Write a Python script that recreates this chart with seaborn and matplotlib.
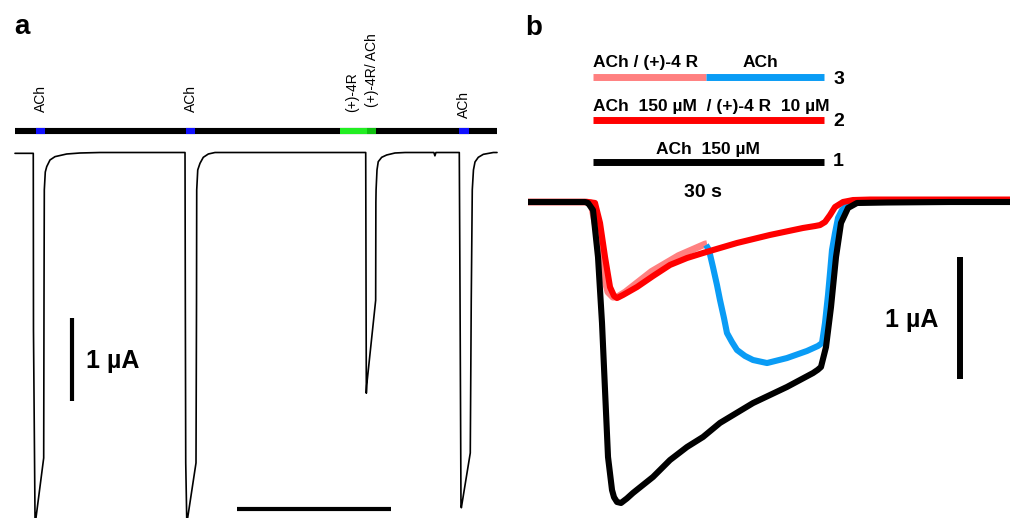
import matplotlib
matplotlib.use("Agg")
import matplotlib.pyplot as plt
import matplotlib.transforms as mtransforms
import pandas as pd
import seaborn as sns

# ---------------- Panel a data (time in s, current in µA) ----------------
a_time = [0, 35.6, 36.0, 39.0, 40.0, 40.9, 55.9, 56.5, 57.1, 59.0, 61.8, 68.2, 77.9,
          100.7, 126.6, 165.6, 331.2, 331.8, 332.6, 334.5, 335.5, 336.4, 352.6, 353.6,
          354.0, 356.0, 360.4, 366.8, 376.6, 389.6, 555.2, 683.2, 683.8, 684.4, 685.2,
          702.6, 703.0, 703.4, 705.2, 707.6, 714.3, 724.0, 740.2, 760.0, 816.0, 818.0,
          820.0, 865.5, 866.9, 868.8, 869.5, 886.9, 888.8, 890.8, 893.1, 896.1, 902.5,
          912.3, 931.8, 939.0]
a_current = [-0.01, -0.01, -2.14, -4.40, -4.72, -4.40, -3.68, -1.78, -0.45, -0.235, -0.17,
             -0.09, -0.05, -0.018, -0.006, 0, 0, -1.8, -3.74, -4.40, -4.75, -4.40, -3.74,
             -1.8, -0.45, -0.21, -0.13, -0.058, -0.018, 0, 0, 0, -1.5, -2.90, -2.80, -1.78,
             -0.6, -0.45, -0.21, -0.111, -0.058, -0.030, -0.006, 0, 0, -0.04, 0, 0, -1.69,
             -4.25, -4.28, -3.62, -1.78, -0.45, -0.21, -0.114, -0.058, -0.022, 0, 0]

a_bar_start, a_bar_end = 0.0, 938.3
a_seg_start = [40.3, 332.5, 633.1, 685.1, 865.5]
a_seg_end = [58.4, 351.2, 685.1, 702.6, 884.4]
a_labels = ["ACh", "ACh", "(+)-4R", "(+)-4R/ ACh", "ACh"]
a_label_time = [50.1, 342.3, 656.0, 695.0, 875.3]
a_scale_time = 300.0      # horizontal scale bar (s)
a_scale_current = 1.0     # vertical scale bar (µA)

# ---------------- Panel b data (time in s, current in µA) ----------------
b1_time = [-8.44, -1.04, -0.65, 0.0, 0.65, 1.17, 1.56, 1.95, 2.47, 2.73, 3.12, 3.64, 4.4,
           5.19, 7.79, 10.0, 12.21, 14.29, 16.49, 20.78, 25.19, 28.57, 29.2, 29.61, 30.26,
           30.91, 31.56, 32.21, 33.12, 34.29, 38.18, 46.36, 54.5]
b1_current = [0, 0, -0.008, -0.066, -0.451, -0.992, -1.541, -2.090, -2.361, -2.42, -2.459,
              -2.467, -2.43, -2.385, -2.254, -2.115, -2.008, -1.926, -1.811, -1.648,
              -1.516, -1.402, -1.375, -1.352, -1.189, -0.861, -0.451, -0.172, -0.049,
              -0.008, -0.004, 0, 0]

b2_time = [-8.44, -0.65, 0.26, 0.91, 1.56, 2.21, 2.73, 3.12, 3.90, 5.71, 7.79, 10.0, 12.21,
           14.29, 16.49, 18.70, 22.99, 27.27, 28.83, 29.48, 30.13, 30.78, 31.43, 32.47,
           33.77, 35.97, 54.5]
b2_current = [0, 0, -0.008, -0.172, -0.451, -0.697, -0.770, -0.787, -0.762, -0.697, -0.607,
              -0.516, -0.459, -0.418, -0.377, -0.336, -0.270, -0.213, -0.197, -0.189,
              -0.164, -0.107, -0.041, 0.0, 0.016, 0.020, 0.020]

b3a_time = [-8.44, -0.91, -0.26, 0.45, 1.30, 1.95, 2.60, 3.25, 4.20, 7.60, 11.10, 14.55, 14.81]
b3a_current = [0, 0, -0.008, -0.230, -0.582, -0.738, -0.780, -0.775, -0.738, -0.570,
               -0.440, -0.345, -0.342]

b3b_time = [14.68, 15.06, 15.58, 16.10, 16.49, 17.01, 17.40, 18.05, 18.70, 19.74, 20.78,
            22.60, 25.19, 27.79, 29.22, 29.74, 30.13, 30.52, 30.78, 31.04, 31.43, 31.82,
            32.34, 33.38, 34.68, 54.5]
b3b_current = [-0.352, -0.393, -0.533, -0.680, -0.803, -0.951, -1.074, -1.148, -1.213,
               -1.262, -1.295, -1.320, -1.279, -1.221, -1.180, -1.156, -0.992, -0.762,
               -0.582, -0.393, -0.254, -0.131, -0.066, -0.008, 0.004, 0.004]

b_app_start, b_app_switch, b_app_end = 0.0, 14.68, 30.0
b_row_numbers = ["3", "2", "1"]
b_scale_current = 1.0

# ---------------- Styling ----------------
sns.set_theme(style="white")
plt.rcParams["font.family"] = ["Liberation Sans", "DejaVu Sans"]
plt.rcParams["text.color"] = "black"

W, H = 1010, 518
fig = plt.figure(figsize=(W / 100, H / 100), dpi=100)
fig.patch.set_facecolor("white")

# ---- panel a axes: pixel 0..510 ----
ax_a = fig.add_axes([0, 0, 510 / W, 1])
s_per_px_a = 300 / 154.0
ax_a.set_xlim(-15 * s_per_px_a, 495 * s_per_px_a)
ax_a.set_ylim(-(518 - 152.5) / 83.0, 152.5 / 83.0)
ax_a.axis("off")

df_a = pd.DataFrame({"t": a_time, "i": a_current})
sns.lineplot(data=df_a, x="t", y="i", ax=ax_a, color="black", linewidth=1.2,
             sort=False, estimator=None)

blend_a = mtransforms.blended_transform_factory(ax_a.transData, ax_a.transAxes)
bar_y_a = 1 - 131 / H
ax_a.plot([a_bar_start, a_bar_end], [bar_y_a, bar_y_a], color="black", lw=4.4,
          solid_capstyle="butt", transform=blend_a)
seg_colors = ["#1010ff", "#1010ff", "#22ee22", "#10c010", "#1010ff"]
for s, e, c in zip(a_seg_start, a_seg_end, seg_colors):
    ax_a.plot([s, e], [bar_y_a, bar_y_a], color=c, lw=4.4, solid_capstyle="butt",
              transform=blend_a)

label_y = [1 - 112 / H, 1 - 112 / H, 1 - 112 / H, 1 - 107 / H, 1 - 118 / H]
for txt, t, y in zip(a_labels, a_label_time, label_y):
    ax_a.text(t, y, txt, rotation=90, ha="center", va="bottom", fontsize=10,
              transform=blend_a, color="black")

# scale bars panel a
v_t = 111.0
ax_a.plot([v_t, v_t], [-1.99, -1.99 - a_scale_current], color="black", lw=3.0,
          solid_capstyle="butt")
ax_a.text(138.0, -(368 - 152.5) / 83.0, "1 µA", fontsize=18, fontweight="bold",
          ha="left", va="baseline", color="black")
ax_a.plot([432.5, 432.5 + a_scale_time], [-4.295, -4.295], color="black", lw=3.0,
          solid_capstyle="butt")
ax_a.text(14 / 510, 1 - 34 / H, "a", transform=ax_a.transAxes, fontsize=20,
          fontweight="bold", ha="left", va="baseline", color="black")

# ---- panel b axes: pixel 520..1010 ----
ax_b = fig.add_axes([520 / W, 0, 490 / W, 1])
px_per_s_b = 7.7
ax_b.set_xlim((520 - 593) / px_per_s_b, (1010 - 593) / px_per_s_b)
ax_b.set_ylim(-(518 - 202) / 122.0, 202 / 122.0)
ax_b.axis("off")

traces = [
    (b3a_time, b3a_current, "#ff8080", 5.0),
    (b3b_time, b3b_current, "#0a9cf5", 4.4),
    (b2_time, b2_current, "#ff0000", 4.4),
    (b1_time, b1_current, "black", 4.4),
]
for tt, ii, c, lw in traces:
    d = pd.DataFrame({"t": tt, "i": ii})
    sns.lineplot(data=d, x="t", y="i", ax=ax_b, color=c, linewidth=lw, sort=False,
                 estimator=None)
for line in ax_b.get_lines():
    line.set_solid_joinstyle("round")
    line.set_solid_capstyle("butt")

blend_b = mtransforms.blended_transform_factory(ax_b.transData, ax_b.transAxes)
row_y = [1 - 77 / H, 1 - 120 / H, 1 - 162 / H]
bar_lw = 5.0
ax_b.plot([b_app_start, b_app_switch], [row_y[0]] * 2, color="#ff8080", lw=bar_lw,
          solid_capstyle="butt", transform=blend_b)
ax_b.plot([b_app_switch, b_app_end], [row_y[0]] * 2, color="#0a9cf5", lw=bar_lw,
          solid_capstyle="butt", transform=blend_b)
ax_b.plot([b_app_start, b_app_end], [row_y[1]] * 2, color="#ff0000", lw=bar_lw,
          solid_capstyle="butt", transform=blend_b)
ax_b.plot([b_app_start, b_app_end], [row_y[2]] * 2, color="black", lw=bar_lw,
          solid_capstyle="butt", transform=blend_b)

num_y = [1 - 80 / H, 1 - 121 / H, 1 - 162 / H]
for n, y in zip(b_row_numbers, num_y):
    ax_b.text(31.2, y, n, transform=blend_b, fontsize=14, fontweight="bold",
              ha="left", va="center", color="black")

fs = 12.5
ax_b.text(0.0, 1 - 67 / H, "ACh / (+)-4 R", transform=blend_b, fontsize=fs,
          fontweight="bold", ha="left", va="baseline", color="black")
ax_b.text(21.8, 1 - 67 / H, "ACh", transform=blend_b, fontsize=fs,
          fontweight="bold", ha="center", va="baseline", color="black")
ax_b.text(0.0, 1 - 110.5 / H, "ACh  150 µM  / (+)-4 R  10 µM", transform=blend_b,
          fontsize=fs, fontweight="bold", ha="left", va="baseline", color="black")
ax_b.text(14.87, 1 - 154 / H, "ACh  150 µM", transform=blend_b, fontsize=fs,
          fontweight="bold", ha="center", va="baseline", color="black")
ax_b.text(14.22, 1 - 197 / H, "30 s", transform=blend_b, fontsize=14,
          fontweight="bold", ha="center", va="baseline", color="black")

# scale bar panel b
sb_t = (960 - 593) / px_per_s_b
ax_b.plot([sb_t, sb_t], [-0.451, -0.451 - b_scale_current], color="black", lw=4.3,
          solid_capstyle="butt")
ax_b.text((885 - 593) / px_per_s_b, -(327 - 202) / 122.0, "1 µA", fontsize=18,
          fontweight="bold", ha="left", va="baseline", color="black")
ax_b.text(5 / 490, 1 - 35 / H, "b", transform=ax_b.transAxes, fontsize=20,
          fontweight="bold", ha="left", va="baseline", color="black")

fig.savefig("out.png", dpi=100, facecolor="white")
